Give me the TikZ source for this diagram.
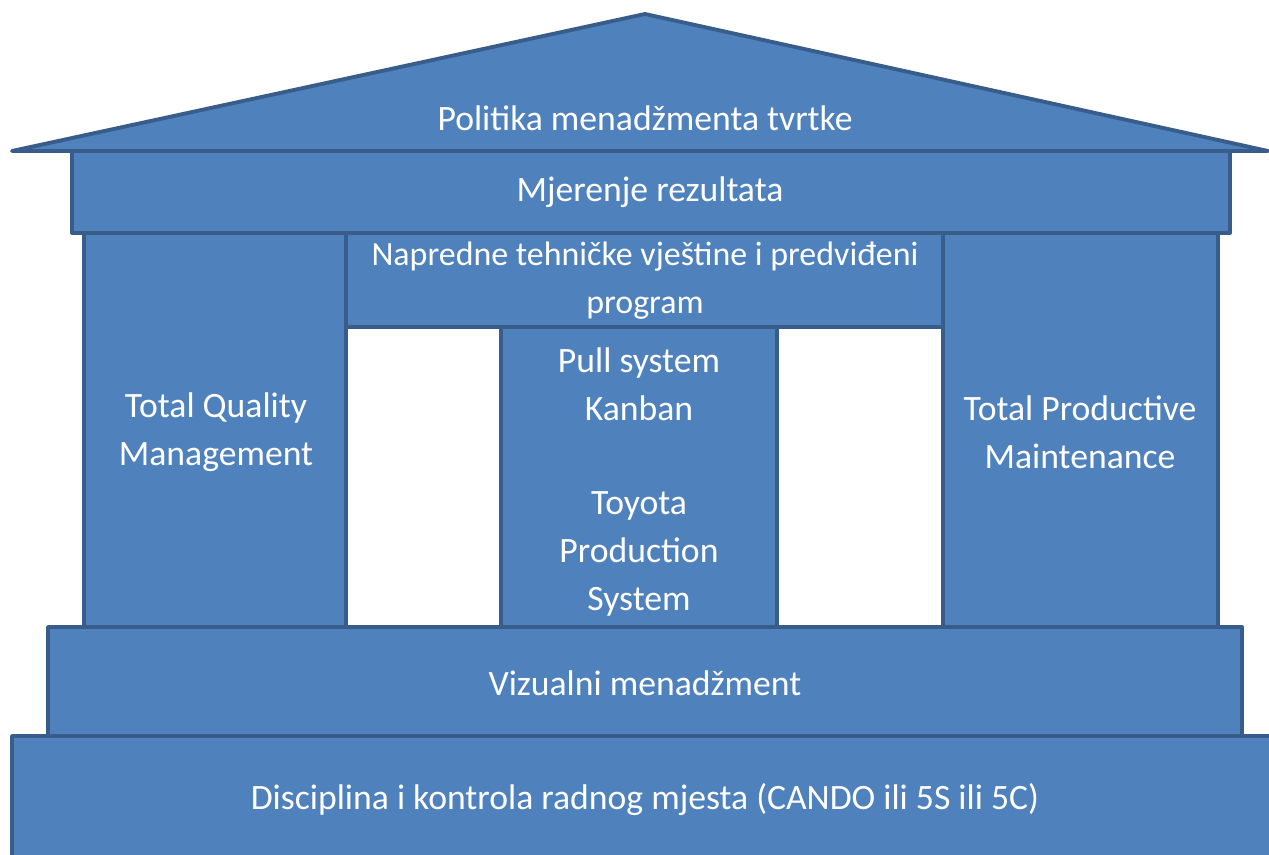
\documentclass[tikz,border=0pt]{standalone}
\usepackage{fontspec}
\setmainfont{Carlito}
\usepackage{tikz}

\definecolor{boxfill}{HTML}{4F81BD}
\definecolor{boxline}{HTML}{385D8A}

\tikzset{
  block/.style={fill=boxfill, draw=boxline, line width=2.2pt, line join=round},
  label/.style={text=white, align=center, font=\fontsize{20.3}{27.3}\selectfont}
}

\begin{document}
\begin{tikzpicture}[x=0.02cm, y=-0.02cm]
  \clip (0,0) rectangle (1269,855);
  % temelj
  \draw[block] (12,736) rectangle (1290,880);
  \node[label] (disciplina) at (645,800) {Disciplina i kontrola radnog mjesta (CANDO ili 5S ili 5C)};
  % stupovi
  \draw[block] (84,233) rectangle (346,627);
  \node[label] (tqm) at (216,432) {Total Quality\\Management};
  \draw[block] (943,233) rectangle (1218,627);
  \node[label] (tpm) at (1080,432) {Total Productive\\Maintenance};
  \draw[block] (501,327) rectangle (777,627);
  \node[label] (pull) at (639,384) {Pull system\\Kanban};
  \node[label] (toyota) at (639,554) {Toyota\\Production\\System};
  \draw[block] (346,233) rectangle (943,327);
  \node[label, font=\fontsize{19.3}{27.3}\selectfont] (napredne) at (645,281) {Napredne tehničke vještine i predviđeni\\program};
  % vizualni
  \draw[block] (48,627) rectangle (1242,736);
  \node[label] (vizualni) at (645,683) {Vizualni menadžment};
  % krov
  \draw[block] (72,151) rectangle (1230,233);
  \node[label] (mjerenje) at (650,192) {Mjerenje rezultata};
  \draw[block] (12,151) -- (645,14) -- (1268,151) -- cycle;
  \node[label] (politika) at (645,118) {Politika menadžmenta tvrtke};
\end{tikzpicture}
\end{document}
